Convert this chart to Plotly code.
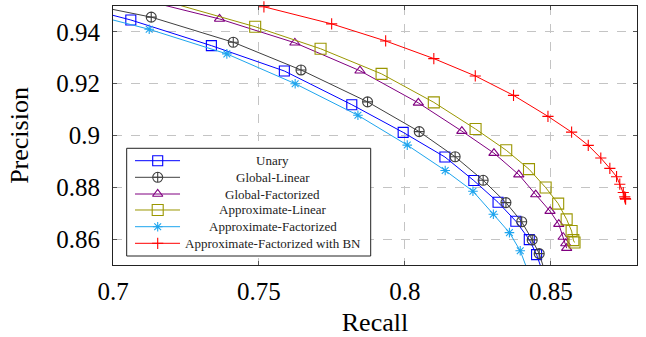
import plotly.graph_objects as go

# ---------------- data ----------------
RECALL_UNARY = [0.7061, 0.7337, 0.7587, 0.7818, 0.7994, 0.8137, 0.8236, 0.8319, 0.8380, 0.8426, 0.8451]
PRECISION_UNARY = [0.9446, 0.9347, 0.9249, 0.9119, 0.9012, 0.8917, 0.8826, 0.8742, 0.8669, 0.8598, 0.8540]

RECALL_GLIN = [0.7131, 0.7412, 0.7644, 0.7872, 0.8049, 0.8172, 0.8268, 0.8346, 0.8400, 0.8436, 0.8460]
PRECISION_GLIN = [0.9457, 0.9360, 0.9253, 0.9130, 0.9015, 0.8918, 0.8827, 0.8741, 0.8667, 0.8597, 0.8544]

RECALL_GFAC = [0.7365, 0.7623, 0.7846, 0.8046, 0.8195, 0.8305, 0.8390, 0.8448, 0.8497, 0.8527, 0.8542, 0.8551, 0.8554]
PRECISION_GFAC = [0.9450, 0.9358, 0.9250, 0.9126, 0.9017, 0.8932, 0.8849, 0.8772, 0.8708, 0.8658, 0.8608, 0.8583, 0.8565]

RECALL_ALIN = [0.7487, 0.7711, 0.7920, 0.8099, 0.8242, 0.8347, 0.8425, 0.8482, 0.8525, 0.8554, 0.8571, 0.8577, 0.8581]
PRECISION_ALIN = [0.9420, 0.9335, 0.9238, 0.9128, 0.9025, 0.8943, 0.8870, 0.8799, 0.8737, 0.8676, 0.8631, 0.8596, 0.8587]

RECALL_AFAC = [0.7124, 0.7390, 0.7624, 0.7839, 0.8008, 0.8138, 0.8233, 0.8303, 0.8358, 0.8395]
PRECISION_AFAC = [0.9410, 0.9315, 0.9200, 0.9078, 0.8963, 0.8865, 0.8785, 0.8696, 0.8625, 0.8555]

RECALL_BN = [0.7517, 0.7749, 0.7934, 0.8099, 0.8241, 0.8372, 0.8490, 0.8571, 0.8628, 0.8671,
             0.8702, 0.8725, 0.8736, 0.8748, 0.8753, 0.8755, 0.8756]
PRECISION_BN = [0.9497, 0.9431, 0.9365, 0.9297, 0.9230, 0.9155, 0.9074, 0.9013, 0.8962, 0.8913,
                0.8873, 0.8841, 0.8812, 0.8780, 0.8763, 0.8757, 0.8754]

# curve continuations beyond the axis limits (clipped in the original)
EXT_UNARY = ([0.68], [0.9523], [0.8473], [0.8469])
EXT_GLIN = ([0.68], [0.9532], [0.8482], [0.8465])
EXT_GFAC = ([0.70], [0.9552], [], [])
EXT_ALIN = ([0.70], [0.9576], [], [])
EXT_AFAC = ([0.68], [0.9504], [0.8425], [0.8465])
EXT_BN = ([], [], [], [])

NAMES = ["Unary", "Global-Linear", "Global-Factorized", "Approximate-Linear",
         "Approximate-Factorized", "Approximate-Factorized with BN"]

X_TICKS = [0.7, 0.75, 0.8, 0.85]
X_TICK_TEXT = ["0.7", "0.75", "0.8", "0.85"]
Y_TICKS = [0.86, 0.88, 0.90, 0.92, 0.94]
Y_TICK_TEXT = ["0.86", "0.88", "0.9", "0.92", "0.94"]
X_RANGE = [0.7, 0.8795]
Y_RANGE = [0.85, 0.95]

# ---------------- styles ----------------
SERIES = [
    (RECALL_UNARY, PRECISION_UNARY, EXT_UNARY, "#0000ff", "square-open", 10),
    (RECALL_GLIN, PRECISION_GLIN, EXT_GLIN, "#404040", "circle-cross-open", 10),
    (RECALL_GFAC, PRECISION_GFAC, EXT_GFAC, "#800080", "triangle-up-open", 9),
    (RECALL_ALIN, PRECISION_ALIN, EXT_ALIN, "#9a9600", "square-open", 11),
    (RECALL_AFAC, PRECISION_AFAC, EXT_AFAC, "#1ea5ee", "asterisk-open", 8),
    (RECALL_BN, PRECISION_BN, EXT_BN, "#ff0000", "cross-thin-open", 8),
]

FONT = "Liberation Serif, Times New Roman, serif"

fig = go.Figure()

for (xs, ys, ext, color, symbol, size), name in zip(SERIES, NAMES):
    bx, by, ax, ay = ext
    fig.add_trace(go.Scatter(
        x=bx + xs + ax, y=by + ys + ay, mode="lines",
        line=dict(color=color, width=1), name=name, hoverinfo="skip"))
    fig.add_trace(go.Scatter(
        x=xs, y=ys, mode="markers", cliponaxis=False, name=name,
        marker=dict(symbol=symbol, size=size, color=color,
                    line=dict(color=color, width=1.1))))

# ---------------- custom legend (centered entries, like pgfplots) ----------------
# positions are fractions of the plot area (overlay axes x2/y2 span [0, 1])
LEG_BOX = (0.0261, 0.0347, 0.4918, 0.4506)   # x0, y0, x1, y1
LEG_ROWS = [0.4027, 0.3386, 0.2741, 0.2124, 0.1479, 0.0838]
LEG_LINE_X = (0.042, 0.1279)
LEG_MARK_X = 0.0853
LEG_TEXT_X = 0.3053

x0, y0, x1, y1 = LEG_BOX
fig.add_trace(go.Scatter(
    x=[x0, x1, x1, x0, x0], y=[y0, y0, y1, y1, y0], mode="lines", fill="toself",
    fillcolor="white", line=dict(color="#222222", width=1),
    xaxis="x2", yaxis="y2", hoverinfo="skip"))

for (xs, ys, ext, color, symbol, size), name, ry in zip(SERIES, NAMES, LEG_ROWS):
    fig.add_trace(go.Scatter(
        x=[LEG_LINE_X[0], LEG_LINE_X[1]], y=[ry, ry], mode="lines",
        line=dict(color=color, width=1), xaxis="x2", yaxis="y2", hoverinfo="skip"))
    fig.add_trace(go.Scatter(
        x=[LEG_MARK_X], y=[ry], mode="markers", xaxis="x2", yaxis="y2", hoverinfo="skip",
        cliponaxis=False,
        marker=dict(symbol=symbol, size=size, color=color, line=dict(color=color, width=1.1))))
    fig.add_annotation(text=name, xref="x domain", yref="y domain", x=LEG_TEXT_X, y=ry,
                       xanchor="center", yanchor="middle", showarrow=False,
                       font=dict(family=FONT, size=13, color="#222222"))

axis_common = dict(showline=True, linecolor="#222222", linewidth=1, mirror="ticks",
                   ticks="inside", ticklen=4, tickcolor="#555555",
                   showgrid=True, gridcolor="#c4c4c4", griddash="dash", gridwidth=1,
                   zeroline=False, automargin=False,
                   tickfont=dict(family=FONT, size=25, color="black"))

fig.update_layout(
    width=646, height=337,
    margin=dict(l=113, r=9, t=6, b=72),
    paper_bgcolor="white", plot_bgcolor="white",
    showlegend=False,
    font=dict(family=FONT, size=25, color="black"),
    xaxis=dict(range=X_RANGE, tickvals=X_TICKS, ticktext=X_TICK_TEXT, ticklabelstandoff=4,
               title=dict(text="Recall", font=dict(family=FONT, size=26), standoff=18),
               **axis_common),
    yaxis=dict(range=Y_RANGE, tickvals=Y_TICKS, ticktext=Y_TICK_TEXT, ticklabelstandoff=7,
               title=dict(text="Precision", font=dict(family=FONT, size=26), standoff=20),
               **axis_common),
    xaxis2=dict(overlaying="x", range=[0, 1], visible=False, automargin=False),
    yaxis2=dict(overlaying="y", range=[0, 1], visible=False, automargin=False),
)

fig.write_html("out.html",
               config={"displayModeBar": False, "staticPlot": True},
               post_script="document.body.style.margin='0';document.body.style.overflow='hidden';")
